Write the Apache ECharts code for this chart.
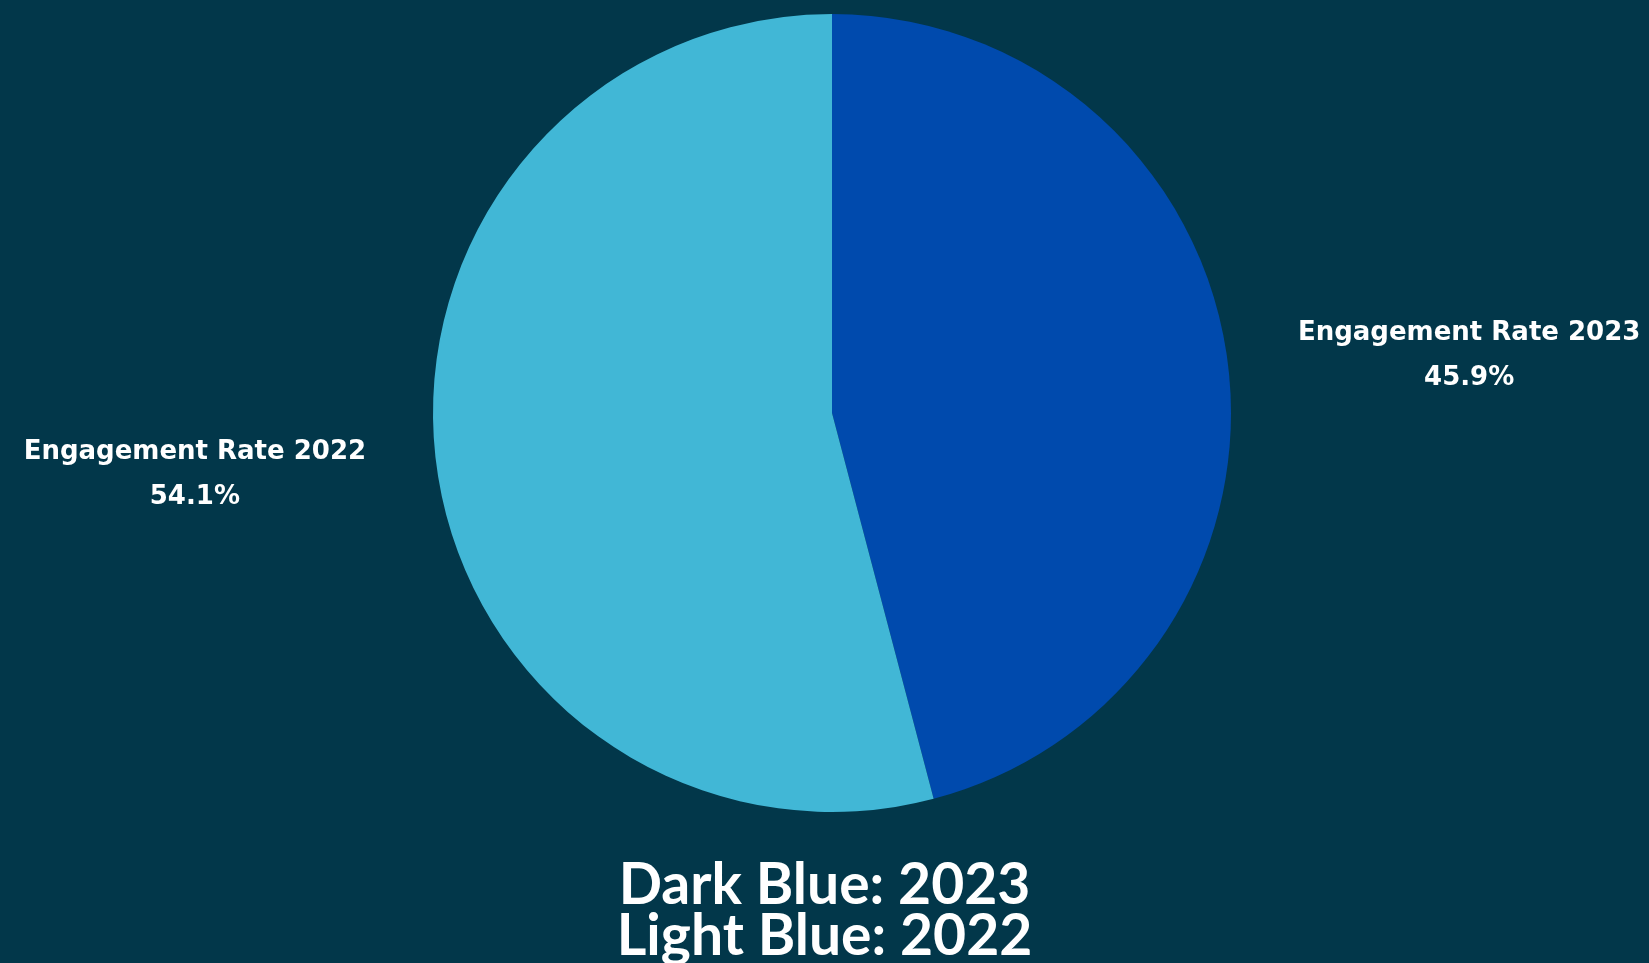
<!DOCTYPE html>
<html>
<head>
<meta charset="UTF-8"/>
<title></title>
<script src="https://cdn.jsdelivr.net/npm/echarts@6/dist/echarts.min.js"></script>
<style>
html, body { margin:0; padding:0; background:#02374a; }
#placeholder { width:1649px; height:963px; }
</style>
</head>
<body>
<div id="placeholder"></div>
<script type="text/javascript">
// data
var names = ['Engagement Rate 2023', 'Engagement Rate 2022'];
var rates = [45.9, 54.1];
var colors = ['#004aad', '#41b7d6'];
var titleLines = ['Dark Blue: 2023', 'Light Blue: 2022'];

var pieData = [];
for (var i = 0; i < names.length; i++) {
    pieData.push({ name: names[i], value: rates[i], itemStyle: { color: colors[i] } });
}

var labelFont = { width: 354, align: 'center', fontSize: 26, lineHeight: 45, fontWeight: 'bold', fontFamily: 'DejaVu Sans', color: '#ffffff' };

var myChart = echarts.init(document.getElementById('placeholder'));
var option = {
    backgroundColor: '#02374a',
    animation: false,
    title: {
        text: titleLines.join('\n'),
        left: 'center',
        top: 860,
        padding: 0,
        textStyle: {
            color: '#ffffff',
            fontFamily: 'Lato',
            fontWeight: 'bold',
            fontSize: 57,
            lineHeight: 51
        }
    },
    series: [{
        type: 'pie',
        center: [832, 413],
        radius: 399,
        startAngle: 90,
        clockwise: true,
        avoidLabelOverlap: false,
        itemStyle: { borderWidth: 0 },
        label: {
            show: true,
            position: 'outside',
            alignTo: 'none',
            distanceToLabelLine: 0,
            padding: [5, 0, 0, 0],
            formatter: '{n|{b}}\n{p|{c}%}',
            color: '#ffffff',
            rich: {
                n: labelFont,
                p: labelFont
            }
        },
        labelLine: { show: false, length: 65, length2: 0 },
        emphasis: { disabled: true },
        data: pieData
    }]
};
myChart.setOption(option, true);
</script>
</body>
</html>
